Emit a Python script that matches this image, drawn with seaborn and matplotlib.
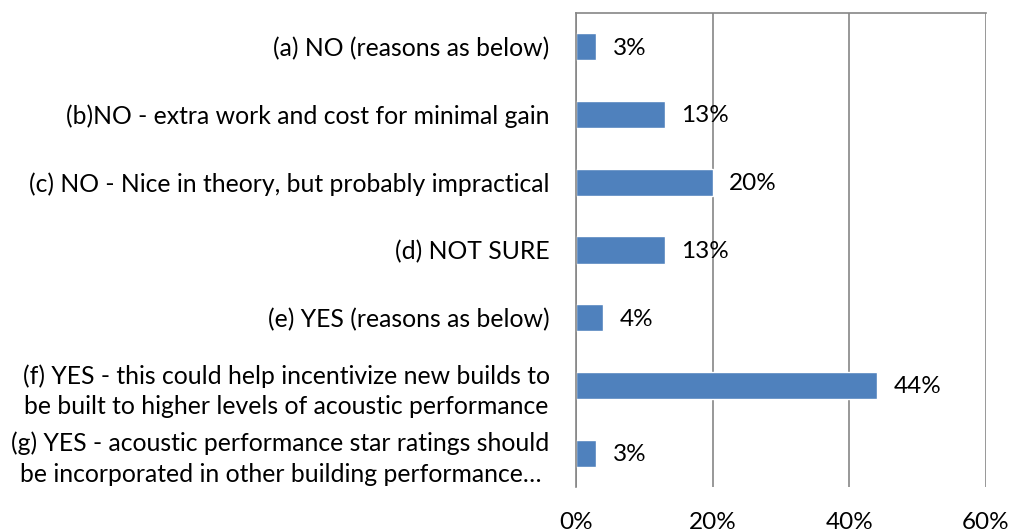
import matplotlib
matplotlib.use("Agg")
import matplotlib.pyplot as plt
import seaborn as sns
import pandas as pd

# données
categories = [
    "(a) NO (reasons as below)",
    "(b)NO - extra work and cost for minimal gain",
    "(c) NO - Nice in theory, but probably impractical",
    "(d) NOT SURE",
    "(e) YES (reasons as below)",
    "(f) YES - this could help incentivize new builds to\nbe built to higher levels of acoustic performance",
    "(g) YES - acoustic performance star ratings should\nbe incorporated in other building performance\u2026",
]
values = [3, 13, 20, 13, 4, 44, 3]
x_ticks = [0, 20, 40, 60]
x_tick_labels = ["0%", "20%", "40%", "60%"]

df = pd.DataFrame({"categorie": categories, "valeur": values})

sns.set_style("white")
plt.rcParams["font.family"] = ["Lato", "DejaVu Sans"]
plt.rcParams["text.color"] = "black"
plt.rcParams["xtick.color"] = "black"
plt.rcParams["ytick.color"] = "black"

fig = plt.figure(figsize=(10.11, 5.31), dpi=100)
ax = fig.add_axes([0.5697, 0.0829, 0.4056, 0.8926])

sns.barplot(data=df, x="valeur", y="categorie", orient="h", color="#4F81BD",
            width=0.4, saturation=1, ax=ax)

for i, v in enumerate(values):
    ax.annotate(f"{v}%", xy=(v, i), xytext=(12, -1), textcoords="offset points",
                va="center", ha="left", fontsize=17.5, color="black")

ax.set_xlim(0, 60)
ax.set_ylim(len(categories) - 0.5, -0.5)
ax.set_xticks(x_ticks)
ax.set_xticklabels(x_tick_labels, fontsize=17.5)
ax.set_yticks(range(len(categories)))
ax.set_yticklabels(categories, fontsize=17.8, multialignment="center", linespacing=1.4)
ax.set_yticks([i - 0.5 for i in range(len(categories) + 1)], minor=True)
ax.tick_params(axis="y", which="major", length=0, pad=19)
ax.tick_params(axis="y", which="minor", length=6, width=1.2, color="#868686", direction="out")
ax.tick_params(axis="x", length=0, pad=18)
ax.set_xlabel("")
ax.set_ylabel("")

ax.grid(axis="x", color="#868686", linewidth=1.2)
ax.set_axisbelow(True)
for side in ["left", "top"]:
    ax.spines[side].set_visible(True)
    ax.spines[side].set_color("#868686")
    ax.spines[side].set_linewidth(1.2)
ax.spines["right"].set_visible(False)
ax.spines["bottom"].set_visible(False)

fig.savefig("out.png", dpi=100)
plt.close(fig)
